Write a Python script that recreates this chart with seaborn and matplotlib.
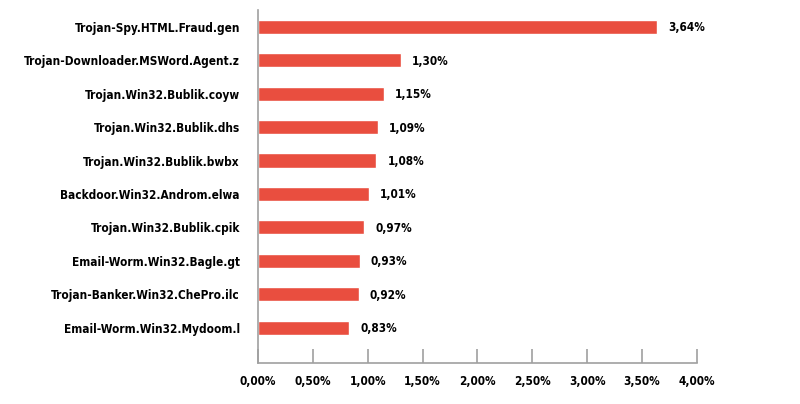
import matplotlib
matplotlib.use("Agg")
import matplotlib.pyplot as plt
import seaborn as sns
import pandas as pd

names = [
    "Trojan-Spy.HTML.Fraud.gen",
    "Trojan-Downloader.MSWord.Agent.z",
    "Trojan.Win32.Bublik.coyw",
    "Trojan.Win32.Bublik.dhs",
    "Trojan.Win32.Bublik.bwbx",
    "Backdoor.Win32.Androm.elwa",
    "Trojan.Win32.Bublik.cpik",
    "Email-Worm.Win32.Bagle.gt",
    "Trojan-Banker.Win32.ChePro.ilc",
    "Email-Worm.Win32.Mydoom.l",
]
shares = [3.64, 1.30, 1.15, 1.09, 1.08, 1.01, 0.97, 0.93, 0.92, 0.83]
xticks = [0.0, 0.5, 1.0, 1.5, 2.0, 2.5, 3.0, 3.5, 4.0]

def fmt(v):
    return f"{v:.2f}%".replace(".", ",")

sns.set_theme(style="white")
plt.rcParams['font.family'] = ['DejaVu Sans']
plt.rcParams['font.stretch'] = 'condensed'
FS = 8.5

df = pd.DataFrame({"name": names, "share": shares})
fig = plt.figure(figsize=(8, 4.04), dpi=100)
ax = fig.add_axes([0.3225, 0.1015, 0.871 - 0.3225, 0.874])
sns.barplot(data=df, x="share", y="name", color="#E94E3F", saturation=1,
            width=0.42, ax=ax, orient="h")
ax.set_ylim(10.05, -0.5)
ax.set_xlim(0, 4.0)
ax.set_xticks(xticks)
ax.set_xticklabels([fmt(v) for v in xticks], fontweight="bold", fontsize=FS,
                   fontstretch="condensed")
ax.set_yticks(range(len(names)))
ax.set_yticklabels(names, fontweight="bold", fontsize=FS, fontstretch="condensed")
ax.set_xlabel("")
ax.set_ylabel("")
for s in ["top", "right"]:
    ax.spines[s].set_visible(False)
for s in ["left", "bottom"]:
    ax.spines[s].set_color("#A0A0A0")
    ax.spines[s].set_linewidth(1.2)
ax.tick_params(axis="x", direction="in", length=10, width=1.2, color="#A0A0A0",
               pad=9, labelcolor="black", bottom=True)
ax.tick_params(axis="y", length=0, pad=13, labelcolor="black")
for i, v in enumerate(shares):
    ax.text(v + 0.1, i + 0.03, fmt(v), va="center", ha="left", fontweight="bold",
            fontsize=FS, fontstretch="condensed", color="black")
fig.savefig("out.png", dpi=100, facecolor="white")
